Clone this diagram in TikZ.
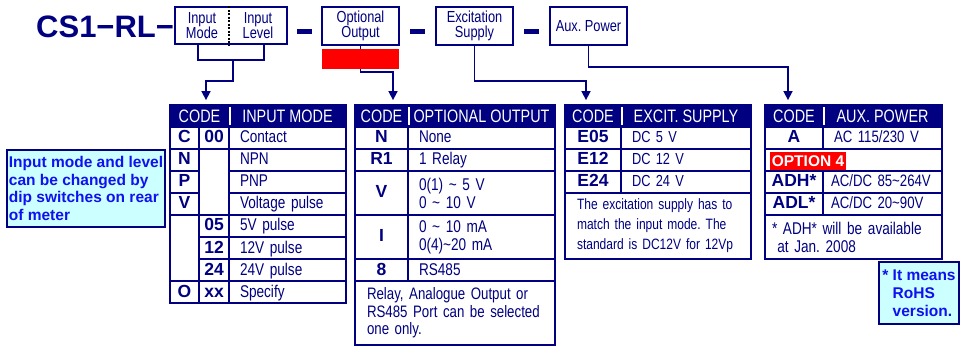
\documentclass[tikz,border=0pt]{standalone}
\usepackage{fontspec}
\setmainfont{Liberation Sans}
\newfontfamily\narrowfont{Liberation Sans}[FakeStretch=0.8]
\usepackage{xcolor}
\usepackage{tikz}
\usetikzlibrary{arrows.meta,positioning,calc}
\definecolor{navy}{RGB}{0,0,128}
\definecolor{notecyan}{RGB}{204,255,255}
\definecolor{noteblue}{RGB}{16,16,240}
\definecolor{optred}{RGB}{255,0,0}
\tikzset{
  titletext/.style={text=navy, inner sep=0pt, font=\fontsize{31}{33}\selectfont\bfseries},
  topbox/.style={draw=navy, line width=1.6pt, fill=white, text=navy, align=center, inner sep=0pt, font=\narrowfont\fontsize{16}{15}\selectfont},
  toptext/.style={text=navy, align=center, inner sep=0pt, font=\narrowfont\fontsize{16}{15}\selectfont},
  sepbar/.style={fill=navy, minimum width=15pt, minimum height=5pt, inner sep=0pt},
  divider/.style={draw=black, line width=1.3pt, dash pattern=on 2pt off 1.5pt},
  optmark/.style={fill=optred, minimum width=77pt, minimum height=20pt, inner sep=0pt},
  headcell/.style={draw=navy, fill=navy, line width=1.8pt, text=white, minimum height=22pt, inner sep=0pt, text height=13pt, text depth=0pt, font=\narrowfont\fontsize{18}{20}\selectfont},
  headsplit/.style={white, line width=1.5pt},
  codecell/.style={draw=navy, line width=1.8pt, text=navy, minimum width=#1, minimum height=22pt, inner sep=0pt, text height=12pt, text depth=2pt, font=\fontsize{17.5}{20}\selectfont\bfseries},
  desccell/.style={draw=navy, line width=1.8pt, text=navy, text width=#1, minimum height=22pt, inner xsep=11pt, inner ysep=0pt, align=left, text height=12pt, text depth=2pt, font=\narrowfont\fontsize{17}{18}\selectfont},
  multicell/.style={draw=navy, line width=1.8pt, text=navy, text width=#1, inner xsep=11pt, inner ysep=0pt, align=left, font=\narrowfont\fontsize{17}{18}\selectfont},
  notecell/.style={draw=navy, line width=1.8pt, text=navy, text width=#1, inner xsep=12pt, inner ysep=0pt, align=left, font=\narrowfont\fontsize{16.6}{17.5}\selectfont},
  optlabel/.style={fill=optred, text=white, minimum width=76pt, minimum height=18pt, inner sep=0pt, font=\fontsize{15.5}{17}\selectfont\bfseries},
  sidenote/.style={draw=navy, line width=1.6pt, fill=notecyan, text=noteblue, align=left, inner sep=2pt, font=\fontsize{15.5}{17.5}\selectfont\bfseries},
  link/.style={draw=navy, line width=1.6pt},
  linkarrow/.style={link, -{Triangle[width=9pt,length=9pt]}, shorten >=4pt}
}
\begin{document}
\frenchspacing
\begin{tikzpicture}[x=1pt,y=-1pt]
\useasboundingbox (0,0) rectangle (960,347);

% model code
\node[titletext, anchor=base west] (title) at (36,38) {CS1−RL−};
\node[topbox, minimum width=112pt, minimum height=37pt] (inbox) at (231,25.5) {};
\node[toptext] (inmode) at (202,25.5) {Input\\Mode};
\node[toptext] (inlevel) at (258,25.5) {Input\\Level};
\draw[divider] ($(inbox.north)+(-2,0)$) -- ($(inbox.south)+(-2,0)$);
\node[sepbar] (sep1) at (304.5,32) {};
\node[topbox, minimum width=77pt, minimum height=38pt] (outbox) at (360.5,26) {Optional\\Output};
\node[sepbar] (sep2) at (417,32) {};
\node[topbox, minimum width=77pt, minimum height=38pt] (excbox) at (474.5,26) {Excitation\\Supply};
\node[sepbar] (sep3) at (531,32) {};
\node[topbox, minimum width=77pt, minimum height=38pt] (auxbox) at (588.5,26) {Aux. Power};

% input mode
\node[headcell, minimum width=59pt] (t1hcode) at (199.5,116) {CODE};
\node[headcell, minimum width=117pt] (t1hname) at (287.5,116) {INPUT MODE};
\draw[headsplit] ([yshift=-3pt]t1hcode.north east) -- ([yshift=3pt]t1hcode.south east);
\node[codecell=29pt] (t1c) at (184.5,138) {C};
\node[codecell=30pt] (t1c00) at (214,138) {00};
\node[desccell=95pt] (t1contact) at (287.5,138) {Contact};
\node[codecell=29pt] (t1n) at (184.5,160) {N};
\node[codecell=30pt, minimum height=66pt] (t1gap1) at (214,182) {};
\node[desccell=95pt] (t1npn) at (287.5,160) {NPN};
\node[codecell=29pt] (t1p) at (184.5,182) {P};
\node[desccell=95pt] (t1pnp) at (287.5,182) {PNP};
\node[codecell=29pt] (t1v) at (184.5,204) {V};
\node[desccell=95pt] (t1volt) at (287.5,204) {Voltage pulse};
\node[codecell=29pt, minimum height=66pt] (t1gap2) at (184.5,248) {};
\node[codecell=30pt] (t1c05) at (214,226) {05};
\node[desccell=95pt] (t1p05) at (287.5,226) {5V pulse};
\node[codecell=30pt] (t1c12) at (214,248) {12};
\node[desccell=95pt] (t1p12) at (287.5,248) {12V pulse};
\node[codecell=30pt] (t1c24) at (214,270) {24};
\node[desccell=95pt] (t1p24) at (287.5,270) {24V pulse};
\node[codecell=29pt] (t1o) at (184.5,292) {O};
\node[codecell=30pt] (t1cxx) at (214,292) {xx};
\node[desccell=95pt] (t1spec) at (287.5,292) {Specify};

% optional output
\node[headcell, minimum width=53pt] (t2hcode) at (381.5,116) {CODE};
\node[headcell, minimum width=147pt] (t2hname) at (481.5,116) {OPTIONAL OUTPUT};
\draw[headsplit] ([yshift=-3pt]t2hcode.north east) -- ([yshift=3pt]t2hcode.south east);
\node[codecell=53pt] (t2n) at (381.5,138) {N};
\node[desccell=125pt] (t2none) at (481.5,138) {None};
\node[codecell=53pt] (t2r1) at (381.5,160) {R1};
\node[desccell=125pt] (t2relay) at (481.5,160) {1 Relay};
\node[codecell=53pt, minimum height=44pt] (t2v) at (381.5,193) {V};
\node[multicell=125pt, minimum height=44pt] (t2volt) at (481.5,193) {0(1) \textasciitilde{} 5 V\\0 \textasciitilde{} 10 V};
\node[codecell=53pt, minimum height=44pt] (t2i) at (381.5,237) {I};
\node[multicell=125pt, minimum height=44pt] (t2amp) at (481.5,237) {0 \textasciitilde{} 10 mA\\0(4)\textasciitilde 20 mA};
\node[codecell=53pt] (t2c8) at (381.5,270) {8};
\node[desccell=125pt] (t2rs) at (481.5,270) {RS485};
\node[notecell=176pt, minimum height=64pt] (t2note) at (455,313) {\mbox{Relay, Analogue Output or}\\\mbox{RS485 Port can be selected}\\\mbox{one only.}};

% excitation supply
\node[headcell, minimum width=56pt] (t3hcode) at (593,116) {CODE};
\node[headcell, minimum width=130pt] (t3hname) at (686,116) {EXCIT. SUPPLY};
\draw[headsplit] ([yshift=-3pt]t3hcode.north east) -- ([yshift=3pt]t3hcode.south east);
\node[codecell=56pt] (t3e05) at (593,138) {E05};
\node[desccell=108pt, font=\narrowfont\fontsize{16}{18}\selectfont] (t3dc5) at (686,138) {DC 5 V};
\node[codecell=56pt] (t3e12) at (593,160) {E12};
\node[desccell=108pt, font=\narrowfont\fontsize{16}{18}\selectfont] (t3dc12) at (686,160) {DC 12 V};
\node[codecell=56pt] (t3e24) at (593,182) {E24};
\node[desccell=108pt, font=\narrowfont\fontsize{16}{18}\selectfont] (t3dc24) at (686,182) {DC 24 V};
\node[notecell=162pt, minimum height=66pt, font=\narrowfont\fontsize{15}{20}\selectfont] (t3note) at (658,226) {\mbox{The excitation supply has to}\\\mbox{match the input mode. The}\\\mbox{standard is DC12V for 12Vp}};

% aux. power
\node[headcell, minimum width=58pt] (t4hcode) at (794,116) {CODE};
\node[headcell, minimum width=119pt] (t4hname) at (882.5,116) {AUX. POWER};
\draw[headsplit] ([yshift=-3pt]t4hcode.north east) -- ([yshift=3pt]t4hcode.south east);
\node[codecell=58pt] (t4a) at (794,138) {A};
\node[desccell=103pt, inner xsep=8pt, font=\narrowfont\fontsize{16.5}{18}\selectfont] (t4ac) at (882.5,138) {\hspace*{3pt}AC 115/230 V};
\node[codecell=177pt] (t4optrow) at (853.5,160) {};
\node[optlabel] (t4opt) at (808,161) {OPTION 4};
\node[codecell=58pt] (t4adh) at (794,182) {ADH*};
\node[desccell=103pt, inner xsep=8pt, font=\narrowfont\fontsize{16.5}{18}\selectfont] (t4wide) at (882.5,182) {AC/DC 85\textasciitilde 264V};
\node[codecell=58pt] (t4adl) at (794,204) {ADL*};
\node[desccell=103pt, inner xsep=8pt, font=\narrowfont\fontsize{16.5}{18}\selectfont] (t4low) at (882.5,204) {AC/DC 20\textasciitilde 90V};
\node[notecell=163pt, inner xsep=7pt, minimum height=44pt, font=\narrowfont\fontsize{17}{18}\selectfont] (t4note) at (853.5,237) {\mbox{* ADH* will be available}\\\mbox{\hphantom{*}at Jan. 2008}};

% side notes
\node[sidenote, minimum width=158pt, minimum height=77pt] (modenote) at (86,188.5) {Input mode and level\\can be changed by\\dip switches on rear\\of meter};
\node[sidenote, minimum width=80pt, minimum height=62pt, font=\fontsize{15.5}{18}\selectfont\bfseries] (rohsnote) at (919,293) {* It means\\\hphantom{*\ }RoHS\\\hphantom{*\ }version.};

% connectors
\draw[link] ($(inbox.south)+(-33,0)$) |- ($(inbox.south)+(2,15)$) coordinate (inmid) -| ($(inbox.south)+(33,0)$);
\draw[linkarrow] (inmid) -- ++(0,21) -| ([xshift=6.5pt]t1hcode.north);
\draw[linkarrow] (outbox.south) -- ++(0,26) -| ([xshift=11.5pt]t2hcode.north);
\draw[linkarrow] (excbox.south) -- ++(0,35) -| ([xshift=-7pt]t3hcode.north);
\draw[linkarrow] (auxbox.south) -- ++(0,21) -| ([xshift=-6pt]t4hcode.north);
\node[optmark] (outmark) at (360.5,59) {};
\end{tikzpicture}
\end{document}
